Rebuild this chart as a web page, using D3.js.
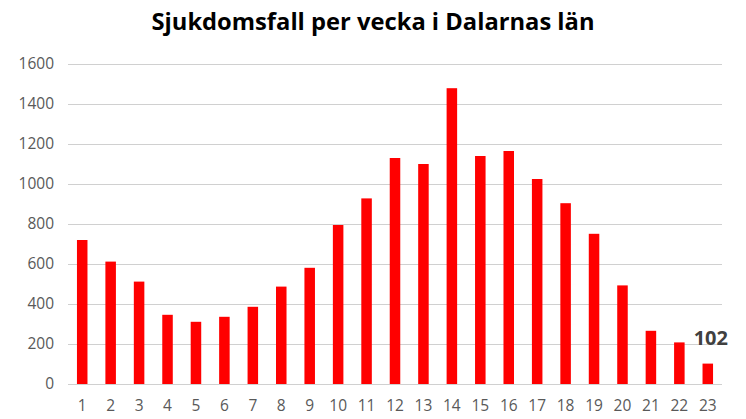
<!DOCTYPE html>
<html><head><meta charset="utf-8">
<script src="https://cdn.jsdelivr.net/npm/d3@7"></script>
<style>
html,body{margin:0;padding:0;background:#fff;}
svg{display:block;}
</style></head>
<body>
<svg id="chart" width="746" height="419"></svg>
<script>
const title = "Sjukdomsfall per vecka i Dalarnas län";
const weeks = ["1","2","3","4","5","6","7","8","9","10","11","12","13","14","15","16","17","18","19","20","21","22","23"];
const cases = [720,612,512,346,311,336,386,487,581,795,928,1130,1100,1479,1140,1165,1025,904,751,493,266,208,102];
const yTicks = [0,200,400,600,800,1000,1200,1400,1600];
const labelledWeeks = ["23"];

const svg = d3.select("#chart");
const m = {left:68, right:24, top:64, bottom:35};
const W = 746, H = 419;

const x = d3.scaleBand().domain(weeks).range([m.left, W - m.right]).paddingInner(0.63).paddingOuter(0.315);
const y = d3.scaleLinear().domain([0,1600]).range([H - m.bottom, m.top]);

svg.append("text")
  .attr("x", 373).attr("y", 30)
  .attr("text-anchor","middle")
  .attr("font-family","'Open Sans', sans-serif")
  .attr("font-weight","bold")
  .attr("font-size", 23)
  .attr("fill","#000")
  .attr("textLength", 443).attr("lengthAdjust","spacingAndGlyphs")
  .text(title);

const yAxis = d3.axisLeft(y).tickValues(yTicks).tickFormat(d3.format("d")).tickSize(-(W - m.right - m.left)).tickPadding(14);
const gy = svg.append("g").attr("transform",`translate(${m.left},0)`).call(yAxis);
gy.select(".domain").remove();
gy.selectAll(".tick line").attr("stroke","#d0d0d0").attr("stroke-width",1.2);
gy.selectAll(".tick text").attr("font-family","'Open Sans', sans-serif").attr("font-size",15.5).attr("fill","#595959");

svg.append("g").selectAll("rect").data(weeks).join("rect")
  .attr("x", d => x(d))
  .attr("width", x.bandwidth())
  .attr("y", (d,i) => y(cases[i]))
  .attr("height", (d,i) => y(0) - y(cases[i]))
  .attr("fill","#ff0000");

const xAxis = d3.axisBottom(x).tickSize(0).tickPadding(16);
const gx = svg.append("g").attr("transform",`translate(0,${y(0)})`).call(xAxis);
gx.select(".domain").remove();
gx.selectAll(".tick text").attr("font-family","'Open Sans', sans-serif").attr("font-size",15.5).attr("fill","#595959");

svg.append("g").selectAll("text").data(labelledWeeks).join("text")
  .attr("x", d => x(d) + x.bandwidth()/2 + 3)
  .attr("y", d => y(cases[weeks.indexOf(d)]) - 19)
  .attr("text-anchor","middle")
  .attr("font-family","'Open Sans', sans-serif")
  .attr("font-weight","bold")
  .attr("font-size",20)
  .attr("fill","#404040")
  .text(d => cases[weeks.indexOf(d)]);
</script>
</body></html>
